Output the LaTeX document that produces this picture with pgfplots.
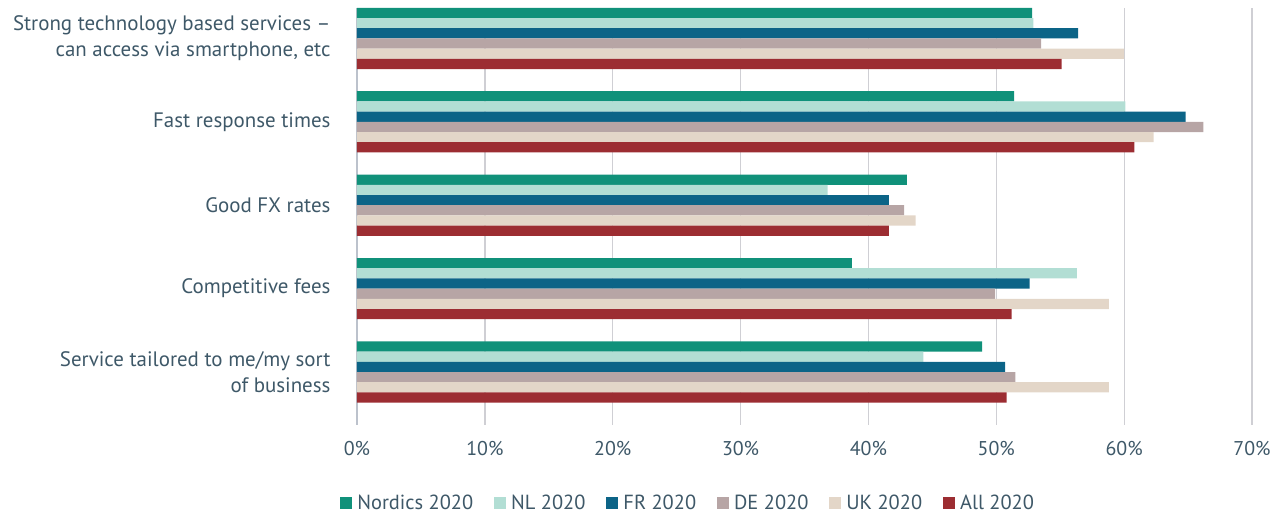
\documentclass[border=0pt]{standalone}
\usepackage{pgfplots}
\pgfplotsset{compat=1.18}
\usepackage{fontspec}
\setmainfont{PT Sans}
\usetikzlibrary{calc}

\definecolor{cNordics}{HTML}{10917A}
\definecolor{cNL}{HTML}{B2DED4}
\definecolor{cFR}{HTML}{0C6487}
\definecolor{cDE}{HTML}{B7A5A5}
\definecolor{cUK}{HTML}{E3D6C8}
\definecolor{cAll}{HTML}{9C2D32}
\definecolor{txt}{HTML}{3E5868}
\definecolor{gridc}{HTML}{CFCFD4}
\definecolor{yline}{HTML}{BCC2CC}

\begin{document}
\begin{tikzpicture}
\begin{axis}[
  name=ax,
  scale only axis,
  width=895bp, height=417bp,
  xmin=0, xmax=70,
  ymin=-0.635, ymax=4.365,
  xtick={0,10,...,70},
  xticklabel={\pgfmathprintnumber{\tick}\%},
  ytick={0,1,2,3,4},
  yticklabels={{Service tailored to me/my sort\\of business},
               {Competitive fees},
               {Good FX rates},
               {Fast response times},
               {Strong technology based services --\\can access via smartphone, etc}},
  yticklabel style={align=right, text=txt, font=\fontsize{21}{26}\selectfont, xshift=-23bp},
  xticklabel style={text=txt, font=\fontsize{20}{22}\selectfont, yshift=-13bp},
  /pgf/number format/assume math mode=true,
  major tick length=0pt,
  axis line style={draw=none},
  xmajorgrids,
  grid style={color=gridc, line width=1.3bp},
  extra x ticks={0},
  extra x tick labels={},
  extra x tick style={grid style={color=yline, line width=2.6bp}},
  xbar, bar width=10.2bp,
  legend style={at={(0.37,-0.187)}, anchor=center, draw=none,
    legend columns=6, text=txt, font=\fontsize{20.5}{22}\selectfont,
    /tikz/every odd column/.append style={column sep=3bp},
    /tikz/every even column/.append style={column sep=19bp},
    inner sep=0pt},
  legend image code/.code={\fill[#1] (0bp,-6bp) rectangle (12bp,6bp);},
  legend cell align=left,
]
\addplot[draw=none, fill=cNordics, bar shift=25.5bp] coordinates
  {(52.8,4) (51.4,3) (43.0,2) (38.7,1) (48.9,0)};
\addplot[draw=none, fill=cNL, bar shift=15.3bp] coordinates
  {(52.9,4) (60.1,3) (36.8,2) (56.3,1) (44.3,0)};
\addplot[draw=none, fill=cFR, bar shift=5.1bp] coordinates
  {(56.4,4) (64.8,3) (41.6,2) (52.6,1) (50.7,0)};
\addplot[draw=none, fill=cDE, bar shift=-5.1bp] coordinates
  {(53.5,4) (66.2,3) (42.8,2) (49.9,1) (51.5,0)};
\addplot[draw=none, fill=cUK, bar shift=-15.3bp] coordinates
  {(60.0,4) (62.3,3) (43.7,2) (58.8,1) (58.8,0)};
\addplot[draw=none, fill=cAll, bar shift=-25.5bp] coordinates
  {(55.1,4) (60.8,3) (41.6,2) (51.2,1) (50.8,0)};
\legend{Nordics 2020, NL 2020, FR 2020, DE 2020, UK 2020, All 2020}
\end{axis}
\pgfresetboundingbox
\useasboundingbox ($(ax.south west)+(-357bp,-90bp)$) rectangle ($(ax.north east)+(35bp,8bp)$);
\end{tikzpicture}
\end{document}
